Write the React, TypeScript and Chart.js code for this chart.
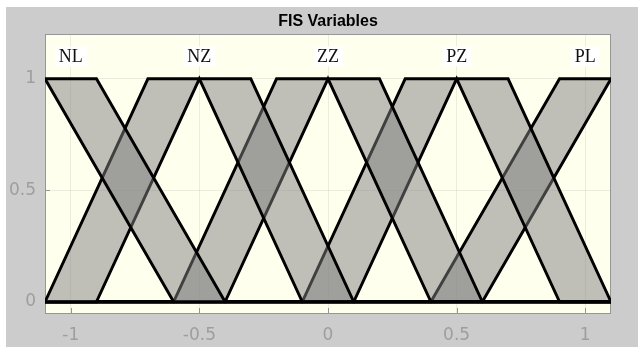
import React, { useEffect, useRef } from 'react';
import { Chart, registerables } from 'chart.js';

Chart.register(...registerables);

// ---- data ----
const TITLE = 'FIS Variables';
const MF_NAMES = ['NL', 'NZ', 'ZZ', 'PZ', 'PL'];
const MF_LABEL_X = [-1, -0.5, 0, 0.5, 1];
const MF_LABEL_Y = 1.1;
const X_TICKS = [-1, -0.5, 0, 0.5, 1];
const Y_TICKS = [0, 0.5, 1];
const X_RANGE = [-1.1, 1.1];
const Y_RANGE = [-0.05, 1.2];

// upper / lower membership functions as [x, y] breakpoints
const NL_UPPER = [[-1.1, 1], [-0.9, 1], [-0.4, 0], [1.1, 0]];
const NL_LOWER = [[-1.1, 1], [-0.6, 0], [1.1, 0]];
const NZ_UPPER = [[-1.1, 0], [-0.7, 1], [-0.3, 1], [0.1, 0], [1.1, 0]];
const NZ_LOWER = [[-1.1, 0], [-0.9, 0], [-0.5, 1], [-0.1, 0], [1.1, 0]];
const ZZ_UPPER = [[-1.1, 0], [-0.6, 0], [-0.2, 1], [0.2, 1], [0.6, 0], [1.1, 0]];
const ZZ_LOWER = [[-1.1, 0], [-0.4, 0], [0, 1], [0.4, 0], [1.1, 0]];
const PZ_UPPER = [[-1.1, 0], [-0.1, 0], [0.3, 1], [0.7, 1], [1.1, 0]];
const PZ_LOWER = [[-1.1, 0], [0.1, 0], [0.5, 1], [0.9, 0], [1.1, 0]];
const PL_UPPER = [[-1.1, 0], [0.4, 0], [0.9, 1], [1.1, 1]];
const PL_LOWER = [[-1.1, 0], [0.6, 0], [1.1, 1]];

const UPPERS = [NL_UPPER, NZ_UPPER, ZZ_UPPER, PZ_UPPER, PL_UPPER];
const LOWERS = [NL_LOWER, NZ_LOWER, ZZ_LOWER, PZ_LOWER, PL_LOWER];

// ---- styles ----
const PLOT_BG = 'rgb(255,255,238)';
const FOU_FILL = 'rgba(128,128,128,0.5)';
const LINE_W = 2.9;
const TICK_COLOR = 'rgb(158,158,158)';
const AXIS_COLOR = 'rgb(150,150,150)';
const GRID_COLOR = 'rgba(0,0,0,0.07)';

const toPts = (arr: number[][]) => arr.map(([x, y]) => ({ x, y }));

const plotBgPlugin = {
  id: 'plotBg',
  beforeDraw(chart: any) {
    const { ctx, chartArea: a } = chart;
    ctx.save();
    ctx.fillStyle = PLOT_BG;
    ctx.fillRect(a.left, a.top, a.right - a.left, a.bottom - a.top);
    ctx.restore();
  },
  beforeDatasetsDraw(chart: any) {
    const { ctx, chartArea: a, scales } = chart;
    ctx.save();
    ctx.strokeStyle = AXIS_COLOR;
    ctx.lineWidth = 1;
    ctx.beginPath();
    X_TICKS.forEach((v) => {
      const px = Math.round(scales.x.getPixelForValue(v)) + 0.5;
      ctx.moveTo(px, a.bottom);
      ctx.lineTo(px, a.bottom - 5);
    });
    Y_TICKS.forEach((v) => {
      const py = Math.round(scales.y.getPixelForValue(v)) + 0.5;
      ctx.moveTo(a.left, py);
      ctx.lineTo(a.left + 5, py);
    });
    ctx.stroke();
    ctx.strokeRect(Math.round(a.left) + 0.5, Math.round(a.top) + 0.5, Math.round(a.right - a.left) - 1, Math.round(a.bottom - a.top));
    ctx.restore();
  },
};

const mfLabelPlugin = {
  id: 'mfLabels',
  afterDatasetsDraw(chart: any) {
    const { ctx, scales } = chart;
    ctx.save();
    ctx.font = '18px "Liberation Serif", serif';
    ctx.textAlign = 'center';
    ctx.textBaseline = 'middle';
    MF_NAMES.forEach((name, i) => {
      const px = scales.x.getPixelForValue(MF_LABEL_X[i]);
      const py = scales.y.getPixelForValue(MF_LABEL_Y);
      const w = ctx.measureText(name).width;
      ctx.fillStyle = '#ffffff';
      ctx.fillRect(px - w / 2 - 4, py - 10, w + 8, 20);
      ctx.fillStyle = '#111111';
      ctx.fillText(name, px, py + 1);
    });
    ctx.restore();
  },
};

export default function App() {
  const canvasRef = useRef<HTMLCanvasElement | null>(null);

  useEffect(() => {
    if (!canvasRef.current) return;
    const datasets: any[] = [];
    MF_NAMES.forEach((name, i) => {
      const base = datasets.length;
      datasets.push({
        label: name + ' upper',
        data: toPts(UPPERS[i]),
        borderColor: '#000000',
        borderWidth: LINE_W,
        pointRadius: 0,
        fill: false,
        tension: 0,
        borderJoinStyle: 'miter',
      });
      datasets.push({
        label: name + ' lower',
        data: toPts(LOWERS[i]),
        borderColor: '#000000',
        borderWidth: LINE_W,
        pointRadius: 0,
        fill: false,
        tension: 0,
        borderJoinStyle: 'miter',
      });
      datasets.push({
        label: name + ' FOU',
        data: toPts(UPPERS[i]),
        borderColor: 'rgba(0,0,0,0)',
        borderWidth: 1,
        pointRadius: 0,
        backgroundColor: FOU_FILL,
        fill: { target: base + 1 },
        tension: 0,
      });
    });

    const chart = new Chart(canvasRef.current, {
      type: 'line',
      data: { datasets },
      options: {
        animation: false,
        responsive: false,
        events: [],
        layout: { padding: { top: 0, right: 27, bottom: 0, left: 0 } },
        plugins: {
          legend: { display: false },
          tooltip: { enabled: false },
          title: {
            display: true,
            text: TITLE,
            color: '#000000',
            fullSize: false,
            font: { family: '"Liberation Sans", Arial, sans-serif', size: 16, weight: 'bold', lineHeight: 1.2 },
            padding: { top: 5, bottom: 3 },
          },
        },
        scales: {
          x: {
            type: 'linear',
            min: X_RANGE[0],
            max: X_RANGE[1],
            afterBuildTicks: (s: any) => {
              s.ticks = X_TICKS.map((v) => ({ value: v }));
            },
            afterFit: (s: any) => {
              s.height = 34;
            },
            grid: { color: GRID_COLOR, drawTicks: false, lineWidth: 1 },
            border: { display: false },
            ticks: {
              color: TICK_COLOR,
              padding: 12,
              maxRotation: 0,
              autoSkip: false,
              font: { family: '"DejaVu Sans", sans-serif', size: 17 },
              callback: (v: any) => String(v),
            },
          },
          y: {
            type: 'linear',
            min: Y_RANGE[0],
            max: Y_RANGE[1],
            afterBuildTicks: (s: any) => {
              s.ticks = Y_TICKS.map((v) => ({ value: v }));
            },
            afterFit: (s: any) => {
              s.width = 39;
            },
            grid: { color: GRID_COLOR, drawTicks: false, lineWidth: 1 },
            border: { display: false },
            ticks: {
              color: TICK_COLOR,
              padding: 9,
              font: { family: '"DejaVu Sans", sans-serif', size: 17 },
              callback: (v: any) => String(v),
            },
          },
        },
      },
      plugins: [plotBgPlugin, mfLabelPlugin],
    } as any);
    return () => chart.destroy();
  }, []);

  return (
    <div style={{ position: 'absolute', left: 0, top: 0, width: 638, height: 347, background: '#ffffff', overflow: 'hidden' }}>
      <div style={{ position: 'absolute', left: 6, top: 7, width: 632, height: 340, background: 'rgb(204,204,204)' }}>
        <canvas ref={canvasRef} width={632} height={340} style={{ width: 632, height: 340, display: 'block' }} />
      </div>
    </div>
  );
}
